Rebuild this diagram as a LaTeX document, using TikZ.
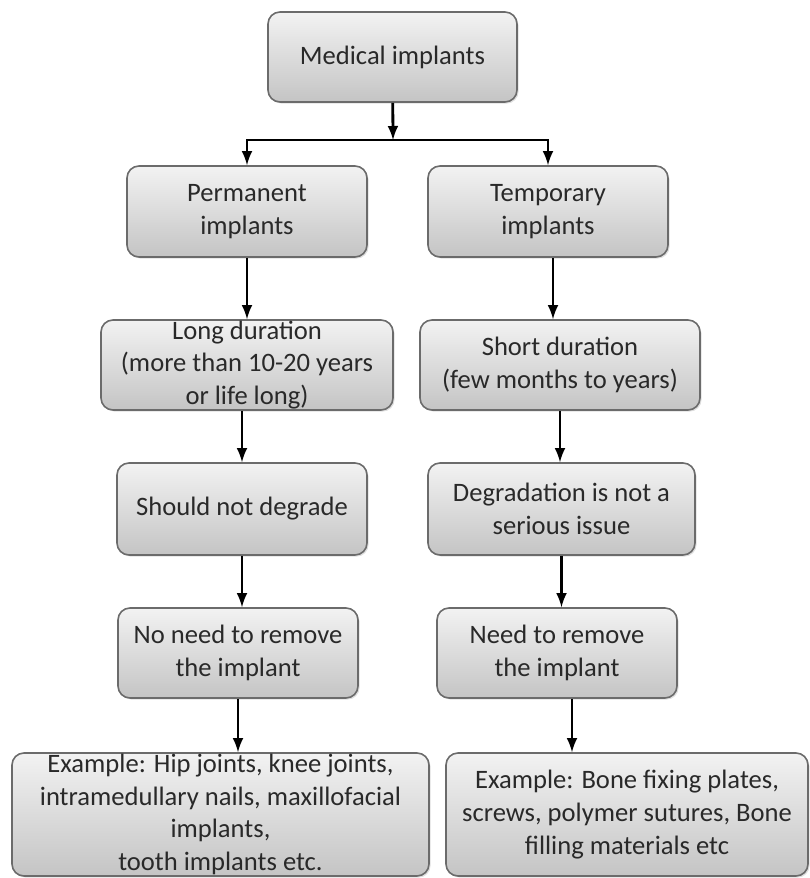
\documentclass[tikz,border=0pt]{standalone}
\usepackage{fontspec}
\setmainfont{Carlito}
\usetikzlibrary{shadows}
\definecolor{huitop}{rgb}{0.95,0.95,0.95}
\definecolor{huibot}{rgb}{0.77,0.77,0.77}
\definecolor{bian}{rgb}{0.42,0.42,0.42}
\definecolor{zi}{rgb}{0.16,0.16,0.16}
\tikzset{ %方框与箭头
    box/.style={draw=bian, line width=0.8pt, rounded corners=6pt, top color=huitop, bottom color=huibot,
        text=zi, align=center, inner sep=0pt, font=\fontsize{13.3}{16.3}\selectfont,
        drop shadow={opacity=0.25, shadow xshift=0.8pt, shadow yshift=-0.8pt}},
    arr/.style={-latex, line width=1.4pt, black},
}
\begin{document}
\begin{tikzpicture}[x=0.5pt, y=-0.5pt]
		\useasboundingbox (0,0) rectangle (809,878);
		\node[box, minimum width=124.5pt, minimum height=45pt] (med) at (392.5,57) {Medical implants};
		\node[box, minimum width=120pt, minimum height=45.5pt] (perm) at (247,211.5) {Permanent\\implants};
		\node[box, minimum width=120pt, minimum height=45.5pt] (temp) at (548,211.5) {Temporary\\implants};
		\node[box, minimum width=146pt, minimum height=45pt] (longd) at (247,365) {Long duration\\(more than 10-20 years\\or life long)};
		\node[box, minimum width=140pt, minimum height=45pt] (shortd) at (560,365) {Short duration\\(few months to years)};
		\node[box, minimum width=125pt, minimum height=46pt] (nodeg) at (242,509) {Should not degrade};
		\node[box, minimum width=133.5pt, minimum height=46pt] (degr) at (561.5,509) {Degradation is not a\\serious issue};
		\node[box, minimum width=120pt, minimum height=45pt] (noneed) at (238,653) {No need to remove\\the implant};
		\node[box, minimum width=120pt, minimum height=45pt] (need) at (557,653) {Need to remove\\the implant};
		\node[box, minimum width=208.5pt, minimum height=61.5pt] (exL) at (220.5,814.5) {Example: Hip joints, knee joints,\\intramedullary nails, maxillofacial\\implants,\\tooth implants etc.};
		\node[box, minimum width=181pt, minimum height=61.5pt] (exR) at (627,814.5) {Example: Bone fixing plates,\\screws, polymer sutures, Bone\\filling materials etc};
		\coordinate (fen) at (393,140);
		\draw[arr] (med) -- (fen);
		\draw[arr] (fen) -| (perm);
		\draw[arr] (fen) -| (temp);
		\draw[arr] (perm.south) -- (perm.south |- longd.north);
		\draw[arr] (nodeg.north |- longd.south) -- (nodeg.north);
		\draw[arr] (nodeg.south) -- (nodeg.south |- noneed.north);
		\draw[arr] (noneed.south) -- (noneed.south |- exL.north);
		\draw[arr] ([xshift=2.5pt]temp.south) -- ([xshift=2.5pt]temp.south |- shortd.north);
		\draw[arr] (shortd.south) -- (shortd.south |- degr.north);
		\draw[arr] (degr.south) -- (degr.south |- need.north);
		\draw[arr] ([xshift=7.5pt]need.south) -- ([xshift=7.5pt]need.south |- exR.north);
	\end{tikzpicture}
\end{document}
